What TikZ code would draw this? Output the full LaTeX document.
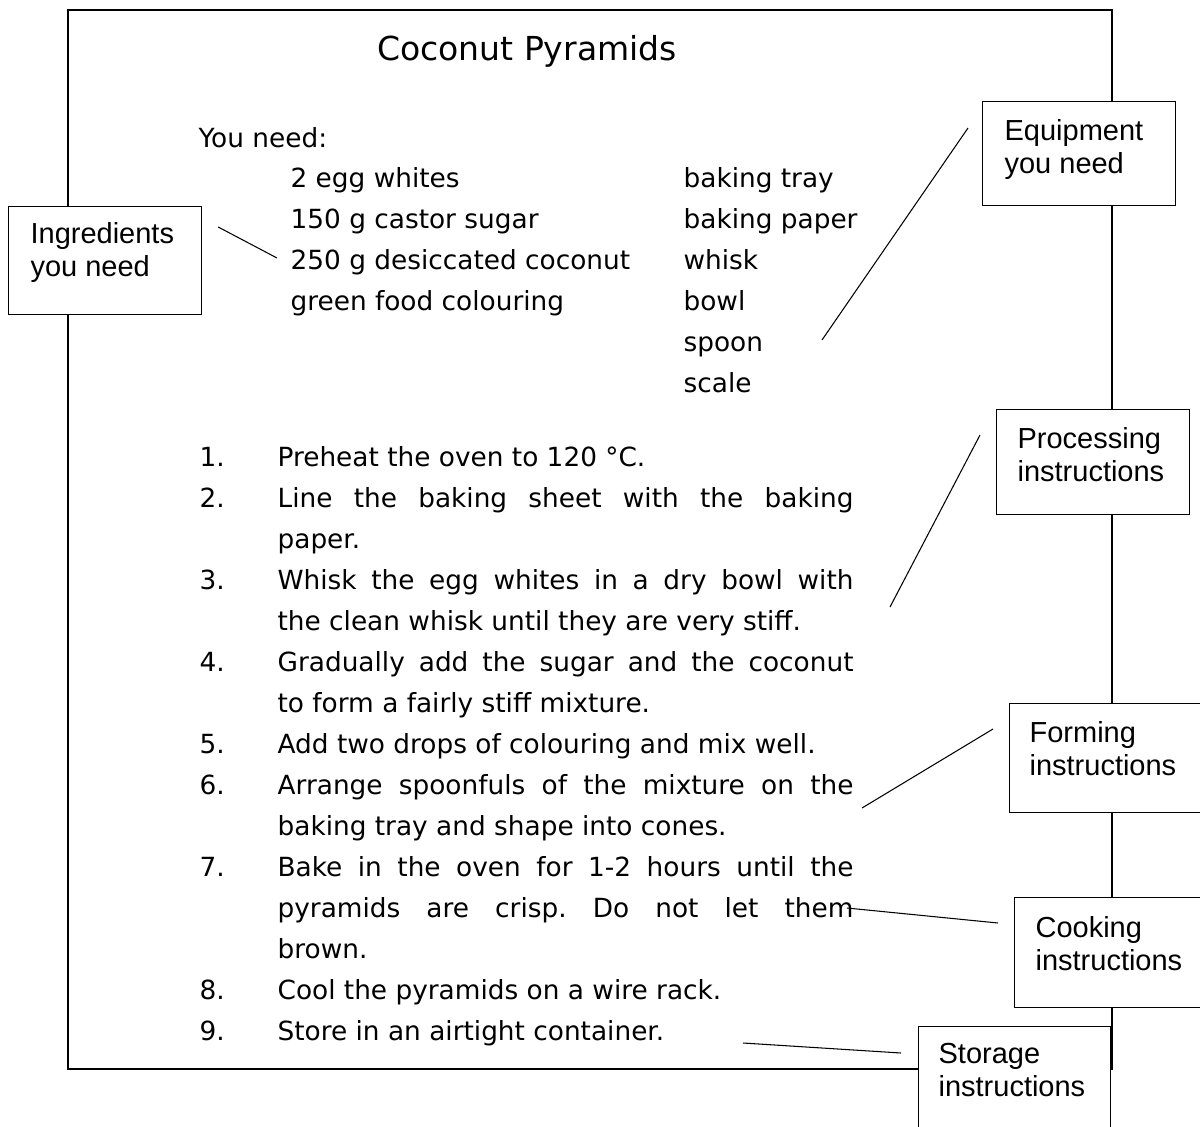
\documentclass[tikz,border=0pt]{standalone}
\usepackage{fontspec}
\setmainfont{DejaVu Sans}
\newfontfamily\labelfont{Liberation Sans}
\newcommand{\jline}[1]{\makebox[11.52cm][s]{#1}}
\frenchspacing

\begin{document}
\begin{tikzpicture}[x=0.02cm, y=-0.02cm, line width=0.7pt,
    recipe/.style={anchor=base west, inner sep=0pt, font=\fontsize{15}{18}\selectfont},
    tag/.style={draw, fill=white, anchor=north west, inner sep=0pt},
    tagtext/.style={anchor=north west, inner sep=0pt, align=left,
      font=\labelfont\fontsize{16.5}{18.7}\selectfont},
    pointer/.style={line width=0.6pt}]
  \clip (0,0) rectangle (1200,1126);
  % page frame
  \draw (68,10) rectangle (1112,1069);

  \node[anchor=base, inner sep=0pt, font=\fontsize{18.8}{22}\selectfont] (title) at (527,60) {Coconut Pyramids};
  \node[recipe] (need) at (198,147) {You need:};

  % ingredients
  \node[recipe] (egg) at (290,187) {2 egg whites};
  \node[recipe] (sugar) at (290,228) {150 g castor sugar};
  \node[recipe] (coco) at (290,269) {250 g desiccated coconut};
  \node[recipe] (green) at (290,310) {green food colouring};

  % equipment
  \node[recipe] (tray) at (683,187) {baking tray};
  \node[recipe] (paper) at (683,228) {baking paper};
  \node[recipe] (whisk) at (683,269) {whisk};
  \node[recipe] (bowl) at (683,310) {bowl};
  \node[recipe] (spoon) at (683,351) {spoon};
  \node[recipe] (scale) at (683,392) {scale};

  % method
  \node[recipe] (n1) at (199,466) {1.};
  \node[recipe] (s1) at (277,466) {Preheat the oven to 120 °C.};
  \node[recipe] (n2) at (199,507) {2.};
  \node[recipe] (s2) at (277,507) {\jline{Line the baking sheet with the baking}};
  \node[recipe] (s2b) at (277,548) {paper.};
  \node[recipe] (n3) at (199,589) {3.};
  \node[recipe] (s3) at (277,589) {\jline{Whisk the egg whites in a dry bowl with}};
  \node[recipe] (s3b) at (277,630) {the clean whisk until they are very stiff.};
  \node[recipe] (n4) at (199,671) {4.};
  \node[recipe] (s4) at (277,671) {\jline{Gradually add the sugar and the coconut}};
  \node[recipe] (s4b) at (277,712) {to form a fairly stiff mixture.};
  \node[recipe] (n5) at (199,753) {5.};
  \node[recipe] (s5) at (277,753) {Add two drops of colouring and mix well.};
  \node[recipe] (n6) at (199,794) {6.};
  \node[recipe] (s6) at (277,794) {\jline{Arrange spoonfuls of the mixture on the}};
  \node[recipe] (s6b) at (277,835) {baking tray and shape into cones.};
  \node[recipe] (n7) at (199,876) {7.};
  \node[recipe] (s7) at (277,876) {\jline{Bake in the oven for 1-2 hours until the}};
  \node[recipe] (s7b) at (277,917) {\jline{pyramids are crisp. Do not let them}};
  \node[recipe] (s7c) at (277,958) {brown.};
  \node[recipe] (n8) at (199,999) {8.};
  \node[recipe] (s8) at (277,999) {Cool the pyramids on a wire rack.};
  \node[recipe] (n9) at (199,1040) {9.};
  \node[recipe] (s9) at (277,1040) {Store in an airtight container.};

  % label boxes
  \node[tag, minimum width=3.86cm, minimum height=2.16cm] (ingr) at (8,206) {};
  \node[tagtext] at (30,222) {Ingredients\\you need};
  \node[tag, minimum width=3.86cm, minimum height=2.08cm] (equip) at (982,101) {};
  \node[tagtext] at (1004,119) {Equipment\\you need};
  \node[tag, minimum width=3.86cm, minimum height=2.10cm] (proc) at (996,409) {};
  \node[tagtext] at (1017,427) {Processing\\instructions};
  \node[tag, minimum width=3.90cm, minimum height=2.18cm] (form) at (1009,703) {};
  \node[tagtext] at (1029,721) {Forming\\instructions};
  \node[tag, minimum width=3.84cm, minimum height=2.20cm] (cook) at (1014,897) {};
  \node[tagtext] at (1035,916) {Cooking\\instructions};
  \node[tag, minimum width=3.84cm, minimum height=2.60cm] (store) at (918,1026) {};
  \node[tagtext] at (938,1043) {Storage\\instructions};

  % pointer ends
  \coordinate (ingrend) at (277,258);
  \coordinate (equipend) at (822,340);
  \coordinate (procend) at (890,607);
  \coordinate (formend) at (862,808);
  \coordinate (cookend) at (847,908);
  \coordinate (storeend) at (743,1043);

  \draw[pointer] ([shift={(16,21)}]ingr.north east) -- (ingrend);
  \draw[pointer] ([shift={(-14,27)}]equip.north west) -- (equipend);
  \draw[pointer] ([shift={(-16,26)}]proc.north west) -- (procend);
  \draw[pointer] ([shift={(-16,26)}]form.north west) -- (formend);
  \draw[pointer] ([shift={(-16,26)}]cook.north west) -- (cookend);
  \draw[pointer] ([shift={(-17,27)}]store.north west) -- (storeend);
\end{tikzpicture}
\end{document}
